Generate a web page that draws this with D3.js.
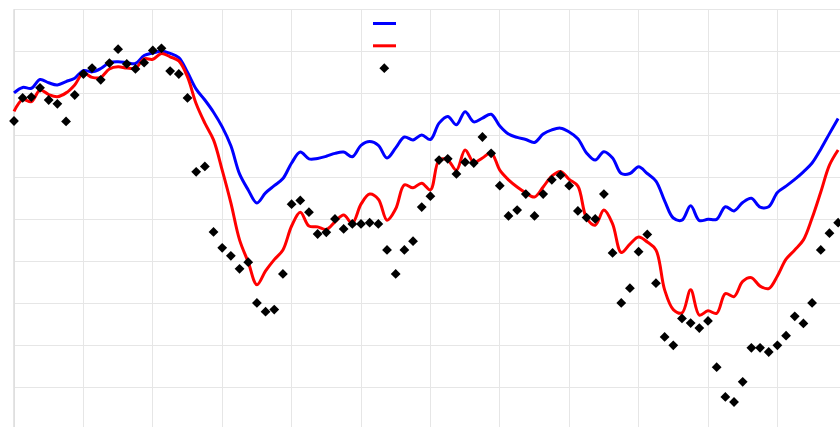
<!DOCTYPE html>
<html>
<head>
<meta charset="utf-8">
<script src="https://cdn.jsdelivr.net/npm/d3@7"></script>
<style>
  html, body { margin: 0; padding: 0; background: #fff; }
  svg { display: block; }
</style>
</head>
<body>
<svg id="chart" width="840" height="427"></svg>
<script>
// Observed values (black diamonds), one per step
const observed = [
  73.4, 78.9, 79.1, 81.3, 78.4, 77.5, 73.3, 79.6, 84.6, 86.0,
  83.2, 87.2, 90.5, 87.0, 85.8, 87.3, 90.2, 90.7, 85.3, 84.6,
  78.9, 61.3, 62.6, 47.0, 43.2, 41.3, 38.2, 39.8, 30.1, 28.0,
  28.5, 37.0, 53.6, 54.5, 51.7, 46.5, 46.9, 50.1, 47.7, 48.9,
  48.9, 49.2, 48.9, 42.7, 37.0, 42.7, 44.8, 52.9, 55.5, 64.1,
  64.4, 60.8, 63.6, 63.4, 69.6, 65.7, 58.0, 50.8, 52.2, 56.0,
  50.8, 56.0, 59.4, 60.5, 58.0, 52.0, 50.4, 50.1, 56.0, 42.0,
  30.1, 33.6, 42.3, 46.4, 34.8, 22.0, 20.0, 26.4, 25.3, 24.1,
  25.8, 14.8, 7.7, 6.5, 11.3, 19.4, 19.4, 18.4, 20.0, 22.3,
  26.9, 25.2, 30.1, 42.7, 46.7, 49.2
];

// Upper smoothed series (blue)
const upperSeries = [
  80.1, 81.4, 81.2, 83.3, 82.5, 82.0, 82.8, 83.6, 85.4, 85.1,
  85.9, 87.3, 87.5, 87.3, 87.1, 89.0, 89.6, 90.0, 89.5, 88.5,
  85.0, 81.0, 78.4, 75.5, 72.0, 67.5, 60.8, 57.0, 53.9, 56.3,
  58.0, 59.7, 63.4, 66.0, 64.4, 64.5, 65.0, 65.7, 66.0, 64.9,
  67.6, 68.5, 67.6, 64.6, 67.0, 69.6, 68.9, 70.1, 69.0, 72.9,
  74.5, 72.5, 75.6, 73.2, 74.1, 75.0, 72.2, 70.3, 69.5, 69.0,
  68.3, 70.3, 71.3, 71.7, 70.8, 69.2, 65.8, 64.1, 66.1, 64.6,
  60.9, 60.9, 62.5, 60.9, 59.1, 54.4, 50.3, 49.8, 53.2, 49.7,
  50.0, 50.0, 53.0, 52.0, 54.0, 55.0, 52.9, 53.0, 56.4, 57.9,
  59.5, 61.3, 63.4, 66.7, 70.4, 74.0
];

// Lower smoothed series (red)
const lowerSeries = [
  75.7, 78.5, 78.0, 80.8, 79.7, 79.2, 80.1, 82.0, 84.8, 83.8,
  83.8, 85.8, 86.3, 86.0, 86.0, 88.2, 88.1, 89.5, 88.7, 87.7,
  83.9, 77.5, 72.9, 68.9, 61.7, 53.9, 45.1, 39.8, 34.4, 37.7,
  40.4, 42.7, 48.4, 51.7, 48.4, 48.2, 47.6, 49.4, 51.0, 49.1,
  53.6, 56.0, 54.8, 49.8, 52.5, 58.2, 57.5, 58.6, 57.0, 64.1,
  64.1, 61.7, 66.5, 63.6, 64.6, 65.8, 61.7, 59.4, 57.7, 56.3,
  55.3, 57.7, 60.3, 61.4, 59.5, 57.9, 50.3, 48.6, 52.2, 48.9,
  42.1, 44.1, 45.8, 44.6, 42.7, 33.2, 28.5, 27.7, 33.2, 27.2,
  28.2, 27.6, 32.3, 31.6, 35.2, 36.1, 34.1, 33.5, 36.5, 40.5,
  42.7, 45.1, 50.3, 56.5, 62.9, 66.5
];

const xTicks = d3.range(0, 97, 8);
const yTicks = d3.range(0, 101, 10);

const svg = d3.select("#chart");
const marginLeft = 14, marginTop = 9.3;
const stepPx = 8.675;

const x = d3.scaleLinear().domain([0, 96]).range([marginLeft, marginLeft + 96 * stepPx]);
const y = d3.scaleLinear().domain([0, 100]).range([marginTop + 420, marginTop]);

const plotRight = x(96), plotBottom = y(0);

// grid
const grid = svg.append("g").attr("stroke", "#e6e6e6").attr("stroke-width", 1).attr("shape-rendering", "crispEdges");
grid.selectAll("line.h").data(yTicks).join("line")
  .attr("class", "h")
  .attr("x1", marginLeft).attr("x2", plotRight)
  .attr("y1", d => y(d)).attr("y2", d => y(d));
grid.selectAll("line.v").data(xTicks).join("line")
  .attr("class", "v")
  .attr("x1", d => x(d)).attr("x2", d => x(d))
  .attr("y1", marginTop).attr("y2", plotBottom);

// left axis line
svg.append("line")
  .attr("x1", marginLeft).attr("x2", marginLeft).attr("y1", marginTop).attr("y2", plotBottom)
  .attr("stroke", "#dcdcdc").attr("stroke-width", 1.5);

const line = d3.line()
  .x((d, i) => x(i))
  .y(d => y(d))
  .curve(d3.curveCatmullRom.alpha(0.5));

const plot = svg.append("g");
plot.append("path").datum(upperSeries)
  .attr("d", line).attr("fill", "none")
  .attr("stroke", "#0000ff").attr("stroke-width", 3)
  .attr("stroke-linejoin", "round");
plot.append("path").datum(lowerSeries)
  .attr("d", line).attr("fill", "none")
  .attr("stroke", "#ff0000").attr("stroke-width", 3)
  .attr("stroke-linejoin", "round");

const diamond = d3.symbol().type(d3.symbolSquare).size(48)();
plot.selectAll("path.pt").data(observed).join("path")
  .attr("class", "pt")
  .attr("d", diamond)
  .attr("transform", (d, i) => `translate(${x(i)},${y(d)}) rotate(45)`)
  .attr("fill", "#000");

// legend
const legend = svg.append("g").attr("transform", "translate(373,0)");
legend.append("line").attr("x1", 0).attr("x2", 23).attr("y1", 23.5).attr("y2", 23.5)
  .attr("stroke", "#0000ff").attr("stroke-width", 3);
legend.append("line").attr("x1", 0).attr("x2", 23).attr("y1", 45.8).attr("y2", 45.8)
  .attr("stroke", "#ff0000").attr("stroke-width", 3);
legend.append("path").attr("d", diamond)
  .attr("transform", "translate(11.3,68.2) rotate(45)").attr("fill", "#000");
</script>
</body>
</html>
